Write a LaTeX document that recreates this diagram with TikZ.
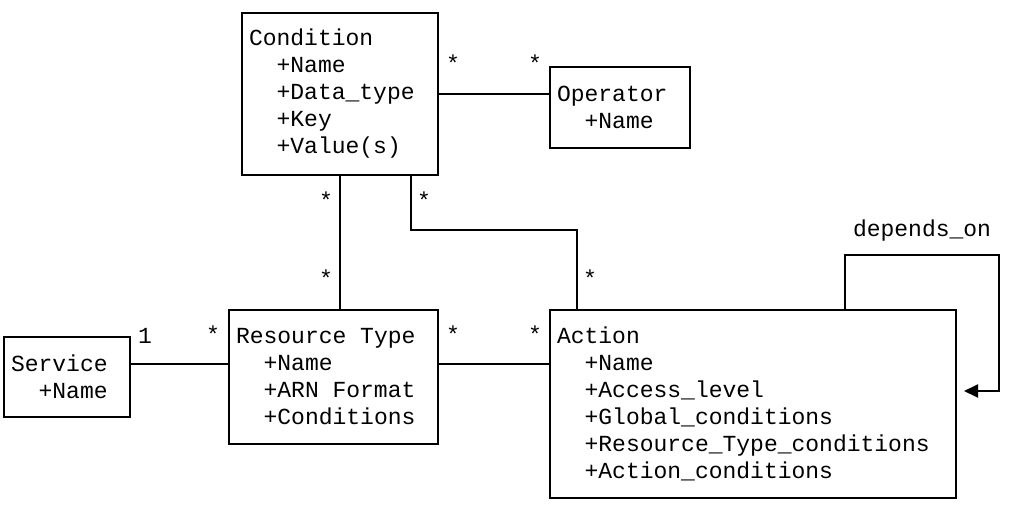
\documentclass[tikz,border=0pt]{standalone}
\usepackage{fontspec}
\newfontfamily\umlfont{Liberation Mono}
\newcommand{\umlsize}{\umlfont\fontsize{23}{27}\selectfont}
\newcommand{\umlind}{\hspace*{27.6pt}}
\newcommand{\umlsp}{\hspace{13.8pt}}
\usepackage{tikz}
\usetikzlibrary{arrows.meta}

\begin{document}
\begin{tikzpicture}[x=1pt, y=-1pt, umlclass/.style = {draw=black, line width=2pt, anchor=north west, align=left, inner xsep=7pt, inner ysep=0pt, font=\umlsize}, mult/.style = {inner sep=0pt, font=\umlsize}, assoc/.style = {draw=black, line width=2pt}]
			\useasboundingbox (0,0) rectangle (1016,516);
			\node [umlclass, text width=182pt, minimum height=162pt] (cond) at (241,12) {Condition\\\umlind+Name\\\umlind+Data\_type\\\umlind+Key\\\umlind+Value(s)};
			\node [umlclass, text width=126pt, minimum height=81pt] (op) at (549,66) {Operator\\\umlind+Name};
			\node [umlclass, text width=112pt, minimum height=80pt] (svc) at (3,336) {Service\\\umlind+Name};
			\node [umlclass, text width=195pt, minimum height=134pt] (rt) at (228,309) {Resource\umlsp Type\\\umlind+Name\\\umlind+ARN\umlsp Format\\\umlind+Conditions};
			\node [umlclass, text width=392pt, minimum height=188pt] (act) at (549,309) {Action\\\umlind+Name\\\umlind+Access\_level\\\umlind+Global\_conditions\\\umlind+Resource\_Type\_conditions\\\umlind+Action\_conditions};
			\draw [assoc] (cond.east) -- (cond.east -| op.west)
				node [mult, at start, xshift=14pt, yshift=31pt] {*}
				node [mult, at end, xshift=-14pt, yshift=31pt] {*};
			\draw [assoc] (cond.south) -- (cond.south |- rt.north)
				node [mult, at start, xshift=-14pt, yshift=-24pt] {*}
				node [mult, at end, xshift=-14pt, yshift=31pt] {*};
			\draw [assoc] ([xshift=-28pt]cond.south east) node [mult, xshift=13pt, yshift=-24pt] {*}
				-- ++(0,54) -| ([xshift=28pt]act.north west)
				node [mult, at end, xshift=13pt, yshift=31pt] {*};
			\draw [assoc] ([yshift=13pt]svc.east) -- ([yshift=13pt]rt.west)
				node [mult, at start, xshift=14pt, yshift=28pt] {1}
				node [mult, at end, xshift=-15pt, yshift=30pt] {*};
			\draw [assoc] ([yshift=13pt]rt.east) coordinate (r1) -- (r1 -| act.west)
				node [mult, at start, xshift=14pt, yshift=30pt] {*}
				node [mult, at end, xshift=-14pt, yshift=30pt] {*};
			\draw [assoc, -{Triangle[length=14pt, width=13pt]}, shorten >=7pt] ([xshift=-112pt]act.north east)
				-- ++(0,-54) -- ++(154,0) node [mult, midway, above=13pt] {depends\_on}
				|- ([yshift=13pt]act.east);
		\end{tikzpicture}
\end{document}
